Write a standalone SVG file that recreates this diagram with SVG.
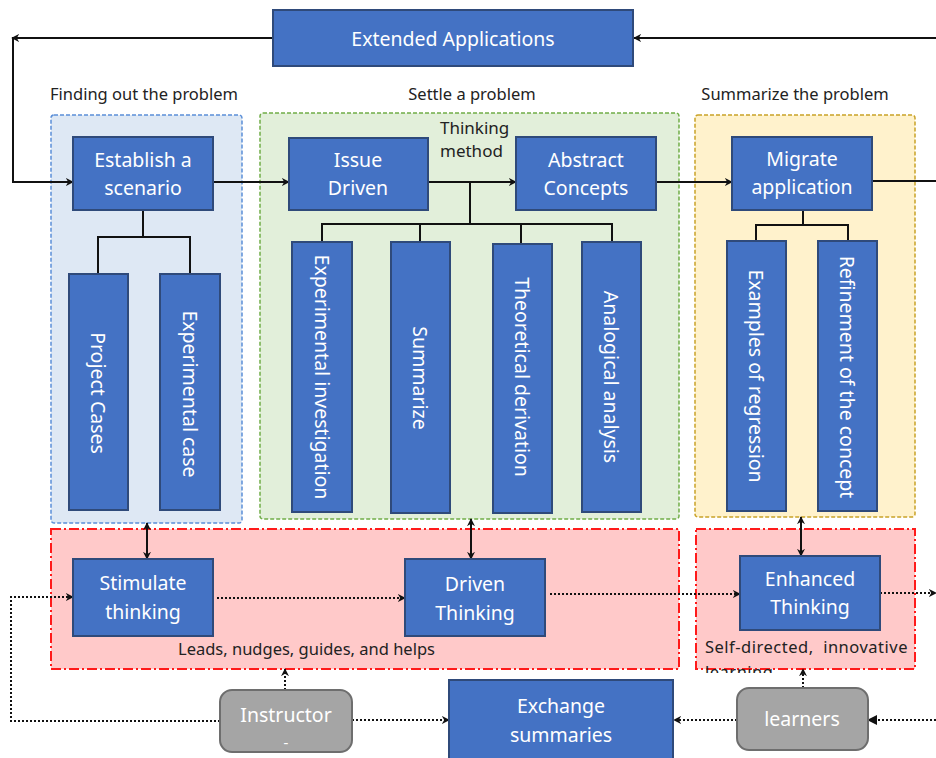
<svg xmlns="http://www.w3.org/2000/svg" width="936" height="758" viewBox="0 0 936 758">
<defs>
<style>
.box{fill:#4472C4;stroke:#2F4A7A;stroke-width:2}
.gray{fill:#A5A5A5;stroke:#6E6E6E;stroke-width:2}
.wt{fill:#fff;font-family:"Noto Sans","Open Sans",sans-serif;font-size:19.5px;text-anchor:middle}
.vt{fill:#fff;font-family:"Noto Sans","Open Sans",sans-serif;font-size:19.5px;text-anchor:middle;dominant-baseline:central}
.bt{fill:#222;font-family:"Noto Sans","Open Sans",sans-serif;font-size:16.5px}
.ln{fill:none;stroke:#111;stroke-width:2}
.dot{fill:none;stroke:#111;stroke-width:2;stroke-dasharray:2 2}
</style>
<marker id="ah" viewBox="0 0 10 10" refX="9" refY="5" markerWidth="8" markerHeight="8" orient="auto-start-reverse" markerUnits="userSpaceOnUse">
<path d="M0,0 L10,5 L0,10 L3,5 z" fill="#111"/>
</marker>
<marker id="ahs" viewBox="0 0 10 10" refX="9" refY="5" markerWidth="10" markerHeight="10" orient="auto-start-reverse" markerUnits="userSpaceOnUse">
<path d="M0,0 L10,5 L0,10 z" fill="#111"/>
</marker>
<clipPath id="clipL"><rect x="690" y="655" width="240" height="18"/></clipPath>
</defs>
<rect width="936" height="758" fill="#fff"/>

<g id="regions">
<rect x="51" y="115" width="191" height="408" rx="3" fill="#DEE8F4" stroke="#5B8FD8" stroke-width="1.5" stroke-dasharray="4 2"/>
<rect x="260" y="113" width="419" height="406" rx="3" fill="#E2EFDA" stroke="#70AD47" stroke-width="1.5" stroke-dasharray="4 2"/>
<rect x="695" y="115" width="220" height="402" rx="3" fill="#FFF2CC" stroke="#C9A227" stroke-width="1.5" stroke-dasharray="4 2"/>
<rect x="51" y="529" width="628" height="140" fill="#FFC9C9" stroke="#FF1A1A" stroke-width="2" stroke-dasharray="10 3 2 3"/>
<rect x="696" y="529" width="219" height="140" fill="#FFC9C9" stroke="#FF1A1A" stroke-width="2" stroke-dasharray="10 3 2 3"/>
</g>

<g id="labels">
<text class="bt" x="144" y="100" text-anchor="middle">Finding out the problem</text>
<text class="bt" x="472" y="100" text-anchor="middle">Settle a problem</text>
<text class="bt" x="795" y="100" text-anchor="middle">Summarize the problem</text>
<text class="bt" x="440" y="134" style="font-size:17px">Thinking</text>
<text class="bt" x="440" y="157" style="font-size:17px">method</text>
<text class="bt" x="178" y="655">Leads, nudges, guides, and helps</text>
<text class="bt" x="705" y="653" xml:space="preserve" style="letter-spacing:0.5px">Self-directed,  innovative</text>
<text class="bt" x="705" y="678" clip-path="url(#clipL)" style="letter-spacing:0.5px">learning</text>
</g>

<g id="connectors">
<polyline class="ln" points="273,38 12,38" marker-end="url(#ah)"/>
<polyline class="ln" points="13,38 13,182 73,182" marker-end="url(#ah)"/>
<polyline class="ln" points="936,38 634,38" marker-end="url(#ah)"/>
<line class="ln" x1="213" y1="182" x2="289" y2="182" marker-end="url(#ah)"/>
<line class="ln" x1="428" y1="182" x2="516" y2="182" marker-end="url(#ah)"/>
<line class="ln" x1="656" y1="182" x2="732" y2="182" marker-end="url(#ah)"/>
<line class="ln" x1="872" y1="181" x2="936" y2="181"/>
<polyline class="ln" points="143,210 143,237"/>
<polyline class="ln" points="98,274 98,237 190,237 190,274"/>
<polyline class="ln" points="470,182 470,224"/>
<polyline class="ln" points="322,242 322,224 612,224 612,242"/>
<line class="ln" x1="420" y1="224" x2="420" y2="242"/>
<line class="ln" x1="521" y1="224" x2="521" y2="244"/>
<polyline class="ln" points="803,210 803,225"/>
<polyline class="ln" points="756,241 756,225 848,225 848,241"/>
<line class="ln" x1="147" y1="523" x2="147" y2="559" marker-start="url(#ah)" marker-end="url(#ah)"/>
<line class="ln" x1="471" y1="519" x2="471" y2="559" marker-start="url(#ah)" marker-end="url(#ah)"/>
<line class="ln" x1="801" y1="517" x2="801" y2="556" marker-start="url(#ah)" marker-end="url(#ah)"/>
<line class="dot" x1="217" y1="598" x2="405" y2="598" marker-end="url(#ah)"/>
<line class="dot" x1="550" y1="594" x2="740" y2="594" marker-end="url(#ah)"/>
<line class="dot" x1="880" y1="593" x2="936" y2="593" marker-end="url(#ah)"/>
<polyline class="dot" points="220,721 11,721 11,597 73,597" marker-end="url(#ah)"/>
<line class="dot" x1="285" y1="690" x2="285" y2="669" marker-end="url(#ah)"/>
<line class="dot" x1="352" y1="720" x2="449" y2="720" marker-end="url(#ah)"/>
<line class="dot" x1="737" y1="720" x2="674" y2="720" marker-end="url(#ah)"/>
<line class="dot" x1="936" y1="720" x2="868" y2="720" marker-end="url(#ahs)"/>
<line class="dot" x1="803" y1="688" x2="803" y2="669" marker-end="url(#ah)"/>
</g>

<g id="extended"><rect class="box" x="273" y="10" width="360" height="56"/><text class="wt" x="453" y="38" dominant-baseline="central">Extended Applications</text></g>
<g id="establish"><rect class="box" x="73" y="137" width="140" height="73"/><text class="wt" x="143" y="167">Establish a</text><text class="wt" x="143" y="195">scenario</text></g>
<g id="issue"><rect class="box" x="289" y="138" width="139" height="72"/><text class="wt" x="358" y="167">Issue</text><text class="wt" x="358" y="195">Driven</text></g>
<g id="abstract"><rect class="box" x="516" y="137" width="140" height="73"/><text class="wt" x="586" y="167">Abstract</text><text class="wt" x="586" y="195">Concepts</text></g>
<g id="migrate"><rect class="box" x="732" y="137" width="140" height="73"/><text class="wt" x="802" y="166">Migrate</text><text class="wt" x="802" y="194">application</text></g>

<g id="project"><rect class="box" x="69" y="274" width="59" height="236"/><text class="vt" transform="translate(98,393) rotate(90)">Project Cases</text></g>
<g id="expcase"><rect class="box" x="160" y="274" width="60" height="236"/><text class="vt" transform="translate(190,394) rotate(90)">Experimental case</text></g>
<g id="expinv"><rect class="box" x="292" y="242" width="60" height="270"/><text class="vt" transform="translate(322,377) rotate(90)">Experimental investigation</text></g>
<g id="summarize"><rect class="box" x="391" y="242" width="59" height="271"/><text class="vt" transform="translate(420,378) rotate(90)">Summarize</text></g>
<g id="theoretical"><rect class="box" x="493" y="244" width="59" height="269"/><text class="vt" transform="translate(522,377) rotate(90)">Theoretical derivation</text></g>
<g id="analogical"><rect class="box" x="582" y="242" width="59" height="270"/><text class="vt" transform="translate(611,377) rotate(90)">Analogical analysis</text></g>
<g id="examples"><rect class="box" x="727" y="241" width="59" height="270"/><text class="vt" transform="translate(756,376) rotate(90)">Examples of regression</text></g>
<g id="refinement"><rect class="box" x="818" y="241" width="59" height="270"/><text class="vt" transform="translate(847,377) rotate(90)">Refinement of the concept</text></g>

<g id="stimulate"><rect class="box" x="73" y="559" width="140" height="77"/><text class="wt" x="143" y="590">Stimulate</text><text class="wt" x="143" y="619">thinking</text></g>
<g id="driven"><rect class="box" x="405" y="559" width="140" height="77"/><text class="wt" x="475" y="591">Driven</text><text class="wt" x="475" y="620">Thinking</text></g>
<g id="enhanced"><rect class="box" x="740" y="556" width="140" height="74"/><text class="wt" x="810" y="586">Enhanced</text><text class="wt" x="810" y="614">Thinking</text></g>

<g id="instructor"><rect class="gray" x="220" y="690" width="132" height="62" rx="12"/><text class="wt" x="286" y="722">Instructor</text><text class="wt" x="286" y="748" style="font-size:15px">-</text></g>
<g id="exchange"><rect class="box" x="449" y="680" width="224" height="82"/><text class="wt" x="561" y="713">Exchange</text><text class="wt" x="561" y="742">summaries</text></g>
<g id="learners"><rect class="gray" x="737" y="688" width="131" height="62" rx="12"/><text class="wt" x="802" y="726">learners</text></g>
</svg>
